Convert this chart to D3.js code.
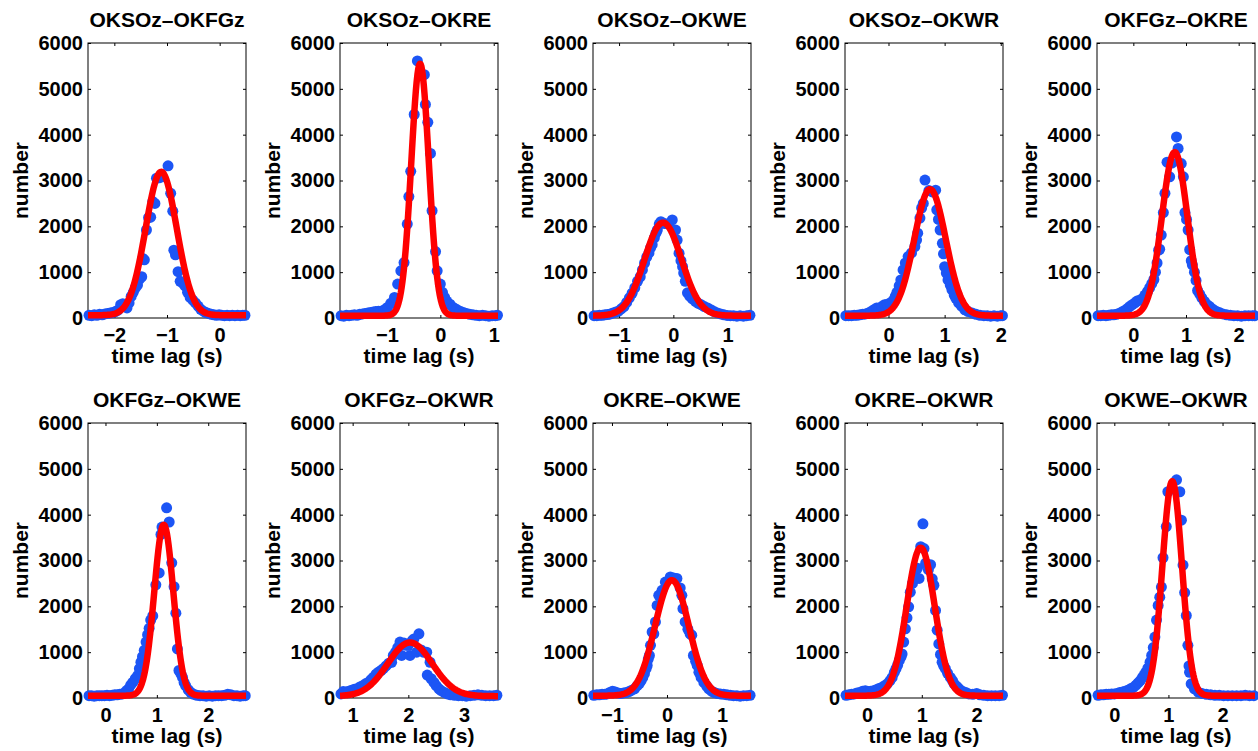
<!DOCTYPE html>
<html>
<head>
<meta charset="utf-8">
<script src="https://cdn.jsdelivr.net/npm/d3@7"></script>
<style>
  html, body { margin: 0; padding: 0; background: #fff; }
  svg { display: block; }
  text { font-family: "Liberation Sans", Arial, Helvetica, sans-serif; font-weight: bold; fill: #000; }
</style>
</head>
<body>
<svg id="chart" width="1258" height="751"></svg>
<script>
// =========================
// DATA
// =========================
const titles = [
  "OKSOz\u2013OKFGz", "OKSOz\u2013OKRE", "OKSOz\u2013OKWE", "OKSOz\u2013OKWR", "OKFGz\u2013OKRE",
  "OKFGz\u2013OKWE", "OKFGz\u2013OKWR", "OKRE\u2013OKWE", "OKRE\u2013OKWR", "OKWE\u2013OKWR"
];

// x limits of each panel (s)
const xLimits = [
  [-2.5, 0.5], [-1.88, 1.08], [-1.48, 1.43], [-0.775, 2.04], [-0.69, 2.31],
  [-0.34, 2.735], [0.773, 3.61], [-1.345, 1.527], [-0.4, 2.48], [-0.32, 2.6]
];

const xTicks = [
  [-2, -1, 0], [-1, 0, 1], [-1, 0, 1], [0, 1, 2], [0, 1, 2],
  [0, 1, 2], [1, 2, 3], [-1, 0, 1], [0, 1, 2], [0, 1, 2]
];

const yTicks = [0, 1000, 2000, 3000, 4000, 5000, 6000];

// [time lag, number] histogram points
const lagOKSOz_OKFGz = [[-2.48,60],[-2.43,50],[-2.38,70],[-2.33,60],[-2.28,80],[-2.23,70],[-2.18,90],[-2.13,100],[-2.08,110],[-2.03,120],[-1.98,140],[-1.93,170],[-1.88,290],[-1.84,310],[-1.8,250],[-1.76,220],[-1.72,330],[-1.68,470],[-1.64,560],[-1.6,660],[-1.56,720],[-1.52,850],[-1.48,900],[-1.46,1300],[-1.43,1270],[-1.39,1920],[-1.35,2190],[-1.31,2200],[-1.27,2540],[-1.23,2500],[-1.2,3050],[-1.15,3060],[-1.09,3080],[-0.98,3320],[-0.93,2720],[-0.89,2330],[-0.87,1480],[-0.84,1380],[-0.79,1010],[-0.75,800],[-0.7,760],[-0.66,700],[-0.61,560],[-0.56,450],[-0.51,390],[-0.46,330],[-0.41,260],[-0.36,190],[-0.31,150],[-0.26,120],[-0.21,100],[-0.16,80],[-0.11,70],[-0.06,60],[-0.01,70],[0.04,60],[0.09,50],[0.14,60],[0.19,50],[0.24,60],[0.29,50],[0.34,60],[0.39,50],[0.44,60],[0.48,60]];
const lagOKSOz_OKRE = [[-1.86,50],[-1.81,40],[-1.76,60],[-1.71,50],[-1.66,60],[-1.61,70],[-1.56,60],[-1.51,80],[-1.46,90],[-1.41,100],[-1.36,110],[-1.31,120],[-1.26,130],[-1.21,140],[-1.16,150],[-1.11,150],[-1.06,170],[-1.02,200],[-0.99,230],[-0.93,320],[-0.86,450],[-0.8,740],[-0.74,1030],[-0.68,1210],[-0.62,2050],[-0.59,2650],[-0.555,3200],[-0.49,4440],[-0.43,5610],[-0.3,5310],[-0.28,4660],[-0.235,4270],[-0.185,3590],[-0.155,2340],[-0.09,1450],[-0.06,1030],[0,740],[0.04,560],[0.08,450],[0.12,370],[0.18,300],[0.24,230],[0.3,190],[0.37,150],[0.43,120],[0.49,100],[0.55,80],[0.61,70],[0.67,60],[0.73,50],[0.79,60],[0.85,50],[0.91,40],[0.97,50],[1.03,50],[1.07,60]];
const lagOKSOz_OKWE = [[-1.46,50],[-1.41,50],[-1.36,60],[-1.31,60],[-1.26,70],[-1.21,75],[-1.16,90],[-1.11,110],[-1.06,130],[-1.01,150],[-0.96,200],[-0.91,250],[-0.86,340],[-0.81,440],[-0.76,540],[-0.71,660],[-0.66,800],[-0.61,900],[-0.57,1050],[-0.53,1200],[-0.49,1330],[-0.45,1420],[-0.42,1530],[-0.39,1600],[-0.35,1750],[-0.32,1850],[-0.295,1920],[-0.26,2050],[-0.23,2100],[-0.16,2060],[-0.09,2050],[-0.02,2140],[0.04,1920],[0.07,1700],[0.105,1415],[0.14,1250],[0.17,1120],[0.19,980],[0.22,800],[0.26,550],[0.3,480],[0.35,420],[0.41,360],[0.46,320],[0.51,290],[0.57,250],[0.63,220],[0.69,180],[0.75,140],[0.81,110],[0.87,90],[0.93,70],[0.99,55],[1.05,50],[1.11,50],[1.17,40],[1.23,50],[1.29,40],[1.35,50],[1.41,60]];
const lagOKSOz_OKWR = [[-0.76,50],[-0.71,50],[-0.66,50],[-0.61,60],[-0.56,60],[-0.51,70],[-0.46,80],[-0.41,90],[-0.36,110],[-0.31,140],[-0.26,180],[-0.21,220],[-0.17,200],[-0.12,250],[-0.07,290],[-0.02,300],[0.03,330],[0.08,380],[0.12,470],[0.15,560],[0.19,700],[0.22,830],[0.26,1050],[0.3,1200],[0.35,1340],[0.41,1420],[0.47,1560],[0.5,1700],[0.52,1850],[0.56,2180],[0.59,2400],[0.62,2500],[0.65,3010],[0.72,2780],[0.78,2750],[0.84,2790],[0.86,2360],[0.89,2150],[0.92,1920],[0.96,1630],[0.98,1400],[1,1120],[1.03,980],[1.06,830],[1.1,720],[1.13,620],[1.17,500],[1.2,430],[1.25,330],[1.3,260],[1.36,180],[1.42,140],[1.49,110],[1.56,80],[1.63,60],[1.7,50],[1.76,50],[1.82,40],[1.88,50],[1.94,40],[2,50],[2.03,50]];
const lagOKFGz_OKRE = [[-0.67,50],[-0.62,50],[-0.57,60],[-0.52,50],[-0.47,60],[-0.42,70],[-0.37,70],[-0.32,80],[-0.27,100],[-0.22,130],[-0.17,160],[-0.12,200],[-0.07,250],[-0.02,290],[0.03,330],[0.07,370],[0.12,390],[0.17,420],[0.22,500],[0.27,580],[0.31,660],[0.35,750],[0.39,840],[0.42,1000],[0.45,1200],[0.48,1480],[0.5,1500],[0.53,1810],[0.57,2300],[0.6,2720],[0.64,3400],[0.69,3080],[0.73,3380],[0.82,3950],[0.85,3700],[0.91,3370],[0.95,3080],[0.98,2300],[1.01,2150],[1.04,1920],[1.07,1490],[1.1,1250],[1.12,1160],[1.16,1000],[1.19,820],[1.22,600],[1.26,520],[1.3,440],[1.35,360],[1.4,290],[1.45,250],[1.51,190],[1.57,150],[1.63,120],[1.7,90],[1.77,70],[1.84,60],[1.91,50],[1.98,50],[2.05,40],[2.12,50],[2.19,50],[2.26,50],[2.3,50]];
const lagOKFGz_OKWE = [[-0.32,50],[-0.27,50],[-0.22,40],[-0.17,50],[-0.12,50],[-0.07,50],[-0.02,50],[0.03,60],[0.08,50],[0.13,60],[0.18,70],[0.23,70],[0.28,80],[0.33,90],[0.37,110],[0.41,160],[0.45,200],[0.49,280],[0.53,340],[0.58,420],[0.625,490],[0.66,640],[0.69,780],[0.72,900],[0.755,1040],[0.79,1220],[0.82,1380],[0.85,1520],[0.88,1700],[0.92,1790],[0.98,2470],[1.045,2730],[1.08,3570],[1.1,3730],[1.19,4150],[1.24,3840],[1.29,2950],[1.335,2430],[1.37,1850],[1.4,1070],[1.43,600],[1.47,520],[1.5,450],[1.53,340],[1.56,270],[1.61,180],[1.66,120],[1.72,80],[1.78,60],[1.84,50],[1.9,50],[1.96,40],[2.02,50],[2.08,40],[2.14,50],[2.2,50],[2.26,50],[2.32,60],[2.38,80],[2.44,70],[2.5,50],[2.56,50],[2.62,40],[2.68,50],[2.72,50]];
const lagOKFGz_OKWR = [[0.79,90],[0.83,140],[0.88,130],[0.93,150],[0.98,170],[1.03,190],[1.08,200],[1.13,240],[1.18,270],[1.23,310],[1.28,340],[1.33,400],[1.37,450],[1.42,520],[1.46,560],[1.51,600],[1.55,640],[1.6,700],[1.65,760],[1.7,780],[1.73,930],[1.77,1000],[1.81,1100],[1.85,1220],[1.88,930],[1.92,1200],[1.96,1150],[2,1150],[2.03,930],[2.07,1250],[2.1,1290],[2.15,1000],[2.19,1400],[2.23,1050],[2.27,1000],[2.33,1000],[2.34,500],[2.39,780],[2.41,420],[2.46,340],[2.5,270],[2.55,200],[2.59,160],[2.65,120],[2.7,90],[2.76,70],[2.83,60],[2.9,50],[2.97,50],[3.04,40],[3.11,50],[3.18,60],[3.25,70],[3.32,60],[3.39,50],[3.46,50],[3.53,50],[3.59,60]];
const lagOKRE_OKWE = [[-1.33,60],[-1.28,70],[-1.23,70],[-1.18,80],[-1.13,80],[-1.09,90],[-1.04,120],[-0.99,150],[-0.94,130],[-0.89,110],[-0.84,100],[-0.79,110],[-0.74,120],[-0.69,140],[-0.64,170],[-0.59,200],[-0.54,270],[-0.5,320],[-0.47,380],[-0.44,450],[-0.41,530],[-0.38,640],[-0.36,710],[-0.34,850],[-0.32,930],[-0.3,1150],[-0.27,1440],[-0.24,1400],[-0.21,1660],[-0.18,2020],[-0.15,2240],[-0.09,2350],[-0.03,2530],[0.06,2640],[0.12,2620],[0.18,2610],[0.24,2400],[0.27,2240],[0.29,1950],[0.33,1660],[0.38,1500],[0.42,1400],[0.45,1370],[0.48,930],[0.52,800],[0.55,710],[0.58,560],[0.62,450],[0.67,340],[0.72,260],[0.76,200],[0.81,150],[0.86,120],[0.91,100],[0.97,90],[1.03,80],[1.09,70],[1.15,60],[1.21,50],[1.27,50],[1.33,40],[1.39,50],[1.45,50],[1.51,60]];
const lagOKRE_OKWR = [[-0.38,60],[-0.33,70],[-0.28,80],[-0.23,90],[-0.18,110],[-0.13,120],[-0.08,150],[-0.03,160],[0.02,140],[0.07,150],[0.12,160],[0.17,180],[0.22,210],[0.27,230],[0.32,270],[0.37,310],[0.42,380],[0.46,450],[0.5,560],[0.53,640],[0.56,720],[0.59,820],[0.62,890],[0.64,960],[0.67,1220],[0.7,1510],[0.73,1750],[0.76,1990],[0.79,2310],[0.83,2500],[0.87,2680],[0.92,2830],[0.95,2610],[0.98,3300],[1.02,3800],[1.04,3260],[1.07,2940],[1.12,2800],[1.16,2910],[1.19,2600],[1.22,2460],[1.25,1910],[1.28,1480],[1.31,1180],[1.34,950],[1.37,780],[1.4,700],[1.43,640],[1.47,540],[1.52,450],[1.56,380],[1.59,310],[1.64,250],[1.68,200],[1.74,150],[1.8,120],[1.86,90],[1.93,80],[2,100],[2.06,70],[2.13,60],[2.2,50],[2.27,50],[2.34,50],[2.41,50],[2.47,60]];
const lagOKWE_OKWR = [[-0.3,60],[-0.25,70],[-0.2,70],[-0.15,80],[-0.1,80],[-0.05,90],[0,90],[0.05,100],[0.1,120],[0.15,130],[0.2,150],[0.25,170],[0.3,200],[0.35,230],[0.4,280],[0.44,330],[0.48,380],[0.52,450],[0.55,500],[0.58,560],[0.62,650],[0.66,780],[0.69,930],[0.72,1100],[0.75,1330],[0.78,1700],[0.81,2020],[0.84,2200],[0.87,2420],[0.9,3060],[0.96,3740],[0.99,4500],[1.15,4760],[1.21,4500],[1.24,3880],[1.27,2900],[1.3,2300],[1.33,1800],[1.36,1150],[1.38,700],[1.39,560],[1.42,310],[1.48,200],[1.55,130],[1.62,100],[1.7,80],[1.78,70],[1.86,60],[1.94,60],[2.02,50],[2.1,50],[2.18,50],[2.26,50],[2.34,50],[2.42,60],[2.5,50],[2.58,50]];

const panelPoints = [
  lagOKSOz_OKFGz, lagOKSOz_OKRE, lagOKSOz_OKWE, lagOKSOz_OKWR, lagOKFGz_OKRE,
  lagOKFGz_OKWE, lagOKFGz_OKWR, lagOKRE_OKWE, lagOKRE_OKWR, lagOKWE_OKWR
];

// gaussian fit
const fitCenter = [-1.11, -0.38, -0.19, 0.74, 0.785, 1.135, 2.03, 0.09, 0.98, 1.07];
const fitSigma  = [0.295, 0.165, 0.34, 0.28, 0.242, 0.186, 0.40, 0.306, 0.255, 0.181];
const fitPeak   = [3130, 5500, 2030, 2760, 3570, 3730, 1170, 2520, 3230, 4680];
const fitBase   = [60, 50, 50, 50, 50, 50, 40, 50, 50, 50];

// =========================
// LAYOUT
// =========================
const svg = d3.select("#chart");
const boxW = 158;
const lefts = [88, 340, 593, 845, 1097];
const tops = [43, 423];
const boxH = 275;

const fmt = d3.format("d");

panelPoints.forEach((pts, i) => {
  const row = Math.floor(i / 5);
  const col = i % 5;
  const g = svg.append("g")
    .attr("transform", `translate(${lefts[col]},${tops[row]})`);

  const x = d3.scaleLinear().domain(xLimits[i]).range([0, boxW]);
  const y = d3.scaleLinear().domain([0, 6000]).range([boxH, 0]);

  // box
  g.append("rect")
    .attr("width", boxW).attr("height", boxH)
    .attr("fill", "#fff").attr("stroke", "#000").attr("stroke-width", 1);

  // axes, ticks inward
  const axL = g.append("g").call(d3.axisLeft(y).tickValues(yTicks).tickSize(-3).tickPadding(5).tickFormat(fmt));
  const axR = g.append("g").attr("transform", `translate(${boxW},0)`)
    .call(d3.axisRight(y).tickValues(yTicks).tickSize(-3).tickFormat(""));
  const axB = g.append("g").attr("transform", `translate(0,${boxH})`)
    .call(d3.axisBottom(x).tickValues(xTicks[i]).tickSize(-3).tickPadding(10).tickFormat(fmt));
  const axT = g.append("g")
    .call(d3.axisTop(x).tickValues(xTicks[i]).tickSize(-3).tickFormat(""));

  [axL, axR, axB, axT].forEach(a => {
    a.select(".domain").remove();
    a.selectAll("line").attr("stroke", "#000");
    a.selectAll("text").style("font-size", "20px").style("font-weight", "bold")
      .style("font-family", "'Liberation Sans', Arial, sans-serif").attr("fill", "#000");
  });

  // points
  g.append("g").selectAll("circle")
    .data(pts)
    .join("circle")
    .attr("cx", d => x(d[0]))
    .attr("cy", d => y(d[1]))
    .attr("r", 5.5)
    .attr("fill", "#1c55f5");

  // fit curve
  const xs = d3.range(0, 201).map(k => xLimits[i][0] + (xLimits[i][1] - xLimits[i][0]) * k / 200);
  const fit = xs.map(t => [t, fitBase[i] + fitPeak[i] * Math.exp(-0.5 * ((t - fitCenter[i]) / fitSigma[i]) ** 2)]);
  g.append("path")
    .datum(fit)
    .attr("fill", "none")
    .attr("stroke", "#ff0000")
    .attr("stroke-width", 6.5)
    .attr("stroke-linejoin", "round")
    .attr("d", d3.line().x(d => x(d[0])).y(d => y(d[1])));

  // labels
  g.append("text")
    .attr("x", boxW / 2).attr("y", -16)
    .attr("text-anchor", "middle")
    .style("font-size", "21px")
    .text(titles[i]);

  g.append("text")
    .attr("x", boxW / 2).attr("y", boxH + 45)
    .attr("text-anchor", "middle")
    .style("font-size", "21px")
    .text("time lag (s)");

  g.append("text")
    .attr("transform", `translate(-60,${boxH / 2}) rotate(-90)`)
    .attr("text-anchor", "middle")
    .style("font-size", "21px")
    .text("number");
});
</script>
</body>
</html>
